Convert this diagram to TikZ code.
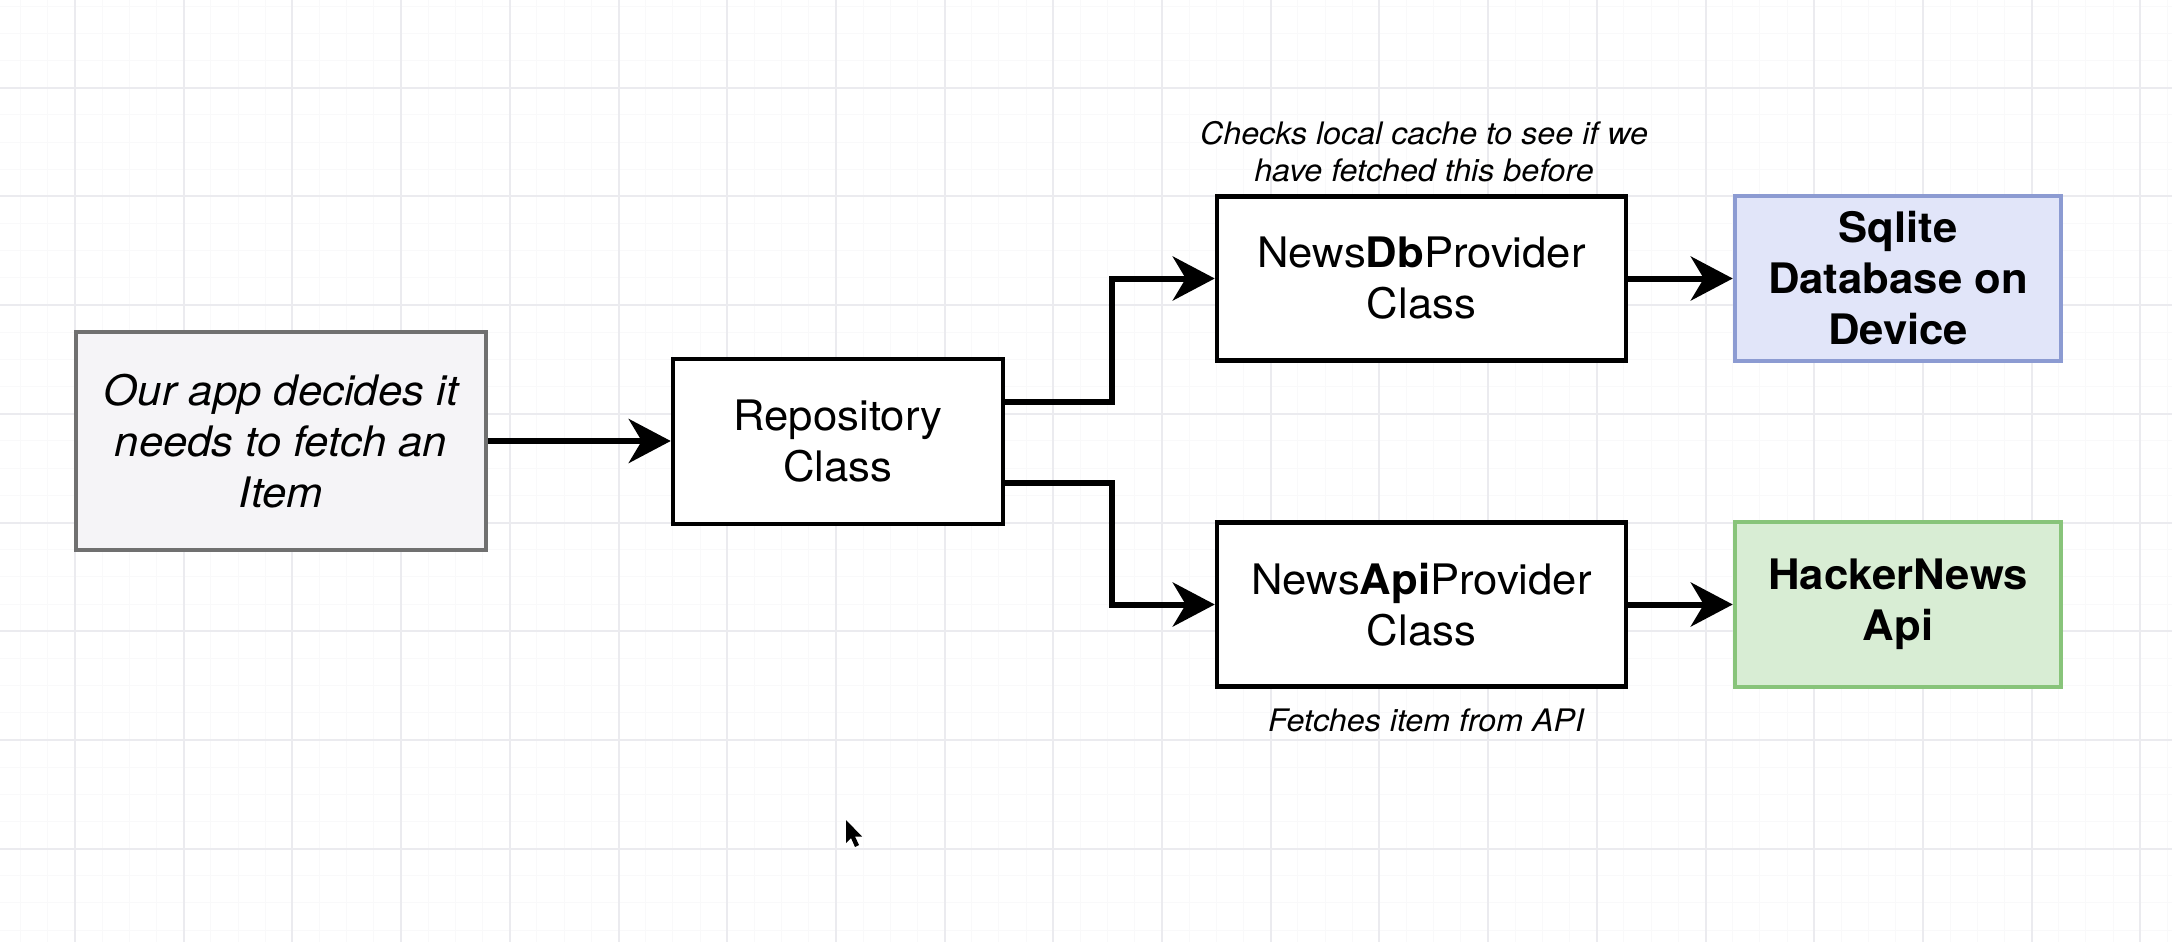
\documentclass[tikz,border=0pt]{standalone}
\usepackage{fontspec}
\setmainfont{TeX Gyre Heros}[FakeStretch=1.04]
\usetikzlibrary{arrows.meta}
\definecolor{gridmaj}{RGB}{235,235,239}
\definecolor{gridmin}{RGB}{249,249,250}
\definecolor{appfill}{RGB}{245,244,247}
\definecolor{appdraw}{RGB}{112,112,112}
\definecolor{sqlfill}{RGB}{225,229,249}
\definecolor{sqldraw}{RGB}{140,155,210}
\definecolor{hnfill}{RGB}{216,237,212}
\definecolor{hndraw}{RGB}{136,196,122}
\tikzset{
  box/.style={draw=black, line width=4.5pt, fill=white, inner sep=0pt, align=center,
    font=\fontsize{42}{51}\selectfont},
  appbox/.style={box, draw=appdraw, fill=appfill, minimum width=410pt, minimum height=218pt,
    font=\fontsize{42}{51}\selectfont\itshape},
  classbox/.style={box, minimum width=409pt, minimum height=164pt},
  repobox/.style={box, minimum width=330pt, minimum height=165pt},
  sqlbox/.style={box, draw=sqldraw, fill=sqlfill, minimum width=326pt, minimum height=165pt,
    font=\fontsize{42}{51}\selectfont\bfseries},
  hnbox/.style={box, draw=hndraw, fill=hnfill, minimum width=326pt, minimum height=165pt,
    font=\fontsize{42}{51}\selectfont\bfseries},
  note/.style={align=center, inner sep=0pt, font=\fontsize{31}{37}\selectfont\itshape},
  conn/.style={line width=6pt, -{Stealth[length=42pt,width=44pt,inset=13pt]}},
  gmaj/.style={draw=gridmaj, line width=2pt},
  gmin/.style={draw=gridmin, line width=1pt}
}
\begin{document}
\begin{tikzpicture}[x=1pt,y=-1pt]
\useasboundingbox (0,0) rectangle (2172,942);
\fill[white] (0,0) rectangle (2172,942);
% grid
\foreach \k in {-2,...,78} {
  \draw[gmin] ({75+27.175*\k},0) -- ({75+27.175*\k},942);
}
\foreach \k in {-3,...,31} {
  \draw[gmin] (0,{87.7+27.175*\k}) -- (2172,{87.7+27.175*\k});
}
\foreach \k in {0,...,19} {
  \draw[gmaj] ({75+108.7*\k},0) -- ({75+108.7*\k},942);
}
\foreach \k in {0,...,7} {
  \draw[gmaj] (0,{87.7+108.7*\k}) -- (2172,{87.7+108.7*\k});
}
% nodes
\node[appbox] (app) at (281,441) {Our app decides it\\needs to fetch an\\Item};
\node[repobox] (repo) at (838,441.5) {Repository\\Class};
\node[classbox] (db) at (1421.5,278.5) {News\textbf{Db}Provider\\Class};
\node[classbox] (api) at (1421.5,604.5) {News\textbf{Api}Provider\\Class};
\node[sqlbox] (sql) at (1898,278.5) {Sqlite\\Database on\\Device};
\node[hnbox] (hn) at (1898,604.5) {HackerNews\\Api};
\node[note] (dbnote) at (1424,152) {Checks local cache to see if we\\have fetched this before};
\node[note] (apinote) at (1426,720) {Fetches item from API};
\coordinate (jx) at (1112,0);
% connectors
\draw[conn] (app.east) -- (app.east -| repo.west);
\draw[conn] ([yshift=39.5pt]repo.east) -| (jx |- db.west) -- (db.west);
\draw[conn] ([yshift=-41.5pt]repo.east) -| (jx |- api.west) -- (api.west);
\draw[conn] (db.east) -- (sql.west);
\draw[conn] (api.east) -- (hn.west);
% mouse cursor
\fill[black] (846,820) -- (846,843) -- (851,838) -- (855,847) -- (859,845) -- (855,836.5) -- (862,836.5) -- cycle;
\end{tikzpicture}
\end{document}
